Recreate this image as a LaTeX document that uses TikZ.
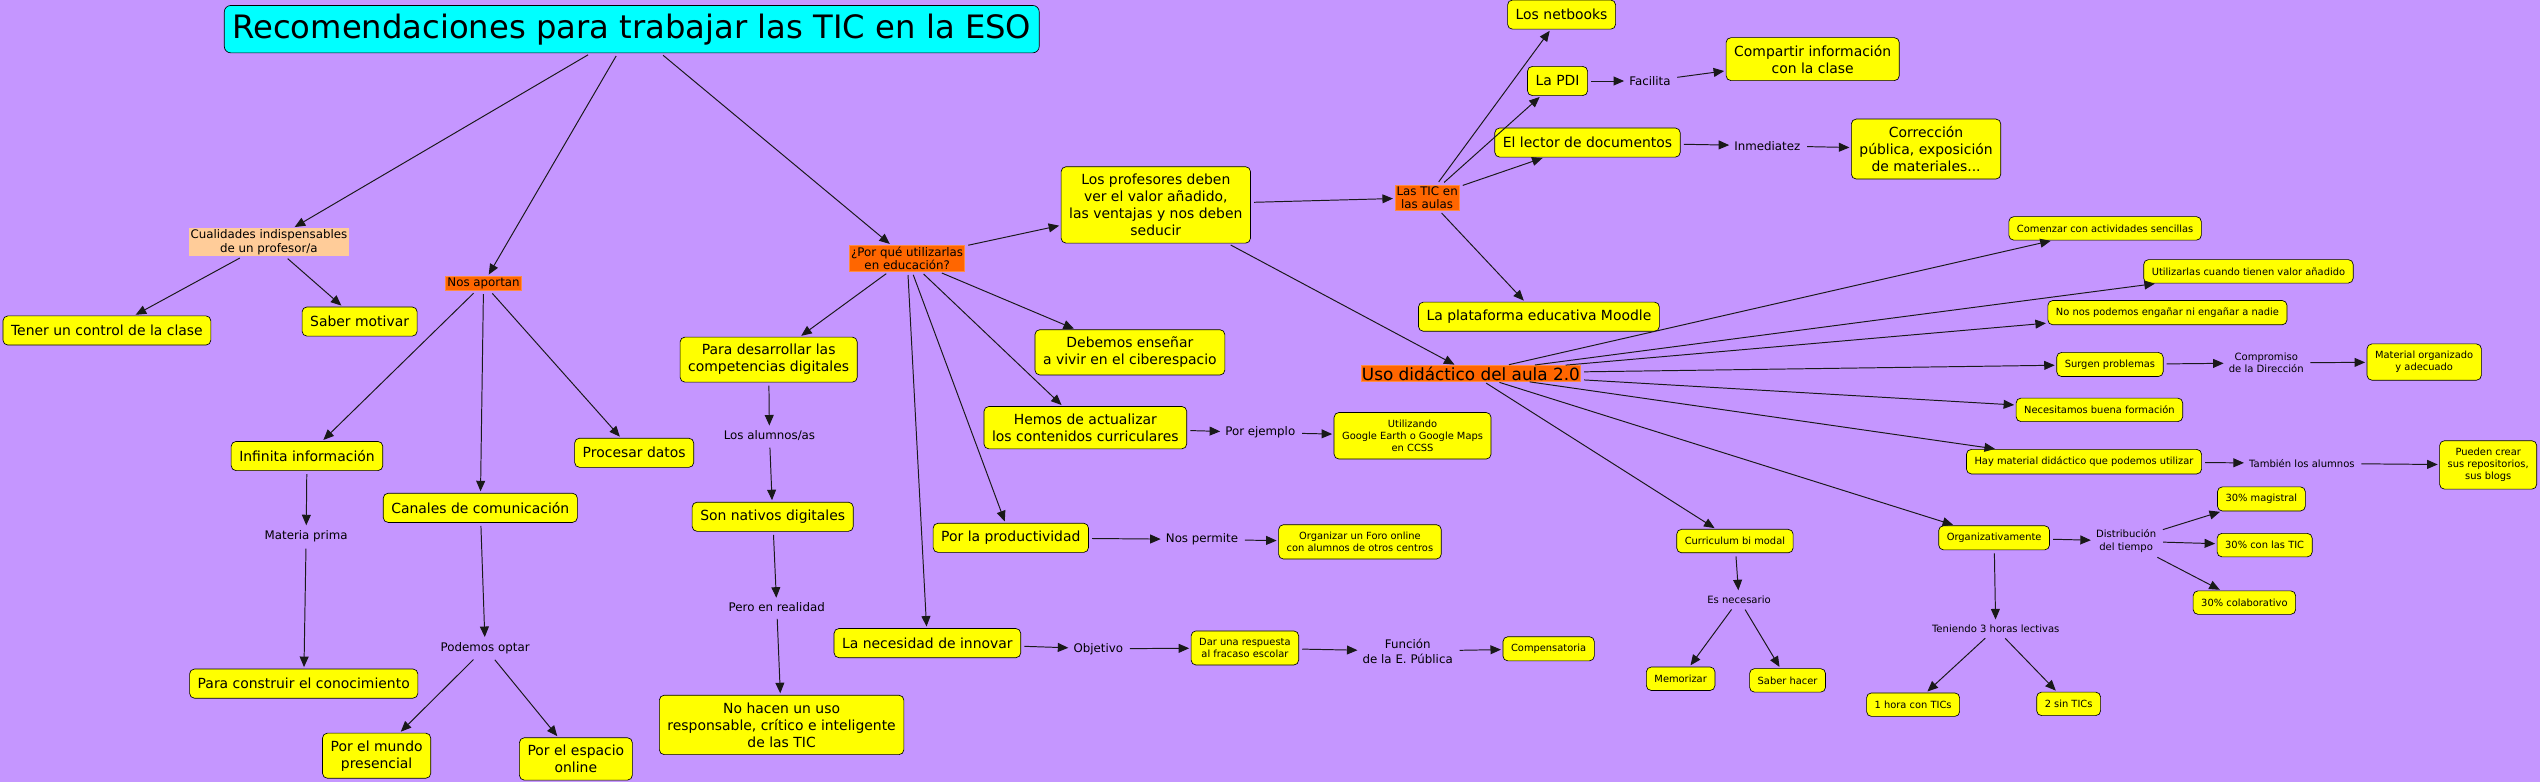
\documentclass[tikz,border=0pt]{standalone}
\usepackage{fontspec}
\setmainfont{DejaVu Sans}
\usetikzlibrary{arrows.meta}
\definecolor{mapbg}{RGB}{197,150,255}
\definecolor{boxyellow}{RGB}{255,255,0}
\definecolor{huborange}{RGB}{255,102,0}
\definecolor{peach}{RGB}{255,204,153}
\definecolor{titlecyan}{RGB}{0,255,255}

\begin{document}
\begin{tikzpicture}[
  x=1pt, y=-1pt,
  box/.style={draw, rounded corners=3pt, align=center, fill=boxyellow, inner xsep=5pt, inner ysep=4.5pt, minimum height=18pt, font=\fontsize{8.6}{10.5}\selectfont},
  sbox/.style={box, inner xsep=5pt, inner ysep=4.5pt, minimum height=14.5pt, font=\fontsize{6.1}{7.5}\selectfont},
  hub/.style={fill=huborange, draw=huborange!75!white, align=center, inner sep=1pt, font=\fontsize{7.3}{8.2}\selectfont},
  link/.style={align=center, inner sep=2pt, font=\fontsize{7.3}{9}\selectfont},
  slink/.style={link, font=\fontsize{6.2}{7.6}\selectfont},
  arrow/.style={-{Triangle[length=6.5pt,width=5.5pt]}, line width=0.6pt, draw=black!90, shorten >=1pt, shorten <=2pt}
]
\fill[mapbg] (0,0) rectangle (1568,483);
\useasboundingbox (0,0) rectangle (1568,483);

% root
\node[box, fill=titlecyan, rounded corners=4pt, inner xsep=5pt, inner ysep=5pt, font=\fontsize{19.9}{23}\selectfont] (title) at (390,18)
  {Recomendaciones para trabajar las TIC en la ESO};

% left branches
\node[hub, fill=peach, draw=none] (cual) at (166,149.5) {Cualidades indispensables\\de un profesor/a};
\node[hub] (nosap) at (298.5,175) {Nos aportan};
\node[hub] (porque) at (560,159.5) {¿Por qué utilizarlas\\en educación?};

\node[box] (tener) at (66,204) {Tener un control de la clase};
\node[box] (saber) at (222,198.5) {Saber motivar};

\node[box] (infinita) at (189.5,281.5) {Infinita información};
\node[box] (procesar) at (391.5,279.5) {Procesar datos};
\node[box] (canales) at (296.5,313.5) {Canales de comunicación};
\node[link] (materia) at (189,331) {Materia prima};
\node[box] (construir) at (187.5,422) {Para construir el conocimiento};
\node[link] (podemos) at (299.5,400) {Podemos optar};
\node[box] (mundo) at (232.5,466.5) {Por el mundo\\presencial};
\node[box] (espacio) at (355.5,468.5) {Por el espacio\\online};

% por que utilizarlas
\node[box] (desarr) at (474.5,222) {Para desarrollar las\\competencias digitales};
\node[link] (alumnos) at (475,269) {Los alumnos/as};
\node[box] (nativos) at (477,319) {Son nativos digitales};
\node[link] (pero) at (479.5,375) {Pero en realidad};
\node[box] (nohacen) at (482.5,447.5) {No hacen un uso\\responsable, crítico e inteligente\\de las TIC};

\node[box] (profes) at (713.5,126.5) {Los profesores deben\\ver el valor añadido,\\las ventajas y nos deben\\seducir};
\node[box] (debemos) at (697.5,217.5) {Debemos enseñar\\a vivir en el ciberespacio};
\node[box] (hemos) at (670,264) {Hemos de actualizar\\los contenidos curriculares};
\node[link] (porej) at (778,267) {Por ejemplo};
\node[sbox] (googl) at (872,269) {Utilizando\\Google Earth o Google Maps\\en CCSS};
\node[box] (product) at (624,332) {Por la productividad};
\node[link] (permite) at (742,333) {Nos permite};
\node[sbox] (foro) at (839.5,334.5) {Organizar un Foro online\\con alumnos de otros centros};
\node[box] (innovar) at (572.5,397) {La necesidad de innovar};
\node[link] (objetivo) at (678,400.5) {Objetivo};
\node[sbox] (fracaso) at (768.5,400) {Dar una respuesta\\al fracaso escolar};
\node[link] (funcion) at (869,402) {Función\\de la E. Pública};
\node[sbox] (compens) at (956,400.5) {Compensatoria};

% las TIC en las aulas
\node[hub] (lastic) at (881,122) {Las TIC en\\las aulas};
\node[box] (netbooks) at (964,9) {Los netbooks};
\node[box] (pdi) at (961.5,50) {La PDI};
\node[link] (facilita) at (1018.5,50) {Facilita};
\node[box] (compartir) at (1119,36.5) {Compartir información\\con la clase};
\node[box] (lector) at (980,88) {El lector de documentos};
\node[link] (inmed) at (1091,90) {Inmediatez};
\node[box] (correcc) at (1189,92) {Corrección\\pública, exposición\\de materiales...};
\node[box] (moodle) at (950,195.5) {La plataforma educativa Moodle};

% uso didactico
\node[hub, inner sep=0.5pt, font=\fontsize{10.4}{12}\selectfont] (uso) at (908,230.5) {Uso didáctico del aula 2.0};
\node[sbox] (comenzar) at (1299.5,141) {Comenzar con actividades sencillas};
\node[sbox] (utilizarlas) at (1388,167.5) {Utilizarlas cuando tienen valor añadido};
\node[sbox] (enganar) at (1338,193) {No nos podemos engañar ni engañar a nadie};
\node[sbox] (surgen) at (1302.5,225) {Surgen problemas};
\node[slink] (compromiso) at (1399,224) {Compromiso\\de la Dirección};
\node[sbox] (organizado) at (1496.5,223.5) {Material organizado\\y adecuado};
\node[sbox] (formacion) at (1296,253) {Necesitamos buena formación};
\node[sbox] (hay) at (1286.5,285) {Hay material didáctico que podemos utilizar};
\node[slink] (tambien) at (1421,286) {También los alumnos};
\node[sbox] (pueden) at (1536,287) {Pueden crear\\sus repositorios,\\sus blogs};

\node[sbox] (curric) at (1071,334) {Curriculum bi modal};
\node[slink] (esnec) at (1073.5,370) {Es necesario};
\node[sbox] (memorizar) at (1037.5,419) {Memorizar};
\node[sbox] (saberhacer) at (1103.5,420) {Saber hacer};

\node[sbox] (organiz) at (1231,332) {Organizativamente};
\node[slink] (distrib) at (1312.5,334) {Distribución\\del tiempo};
\node[sbox] (magistral) at (1396,308) {30\% magistral};
\node[sbox] (contic) at (1398,336.5) {30\% con las TIC};
\node[sbox] (colab) at (1385.5,372) {30\% colaborativo};
\node[slink] (teniendo) at (1232,388) {Teniendo 3 horas lectivas};
\node[sbox] (unahora) at (1181,435) {1 hora con TICs};
\node[sbox] (dossin) at (1277,434.5) {2 sin TICs};

% connectors
\draw[arrow] (title) -- (cual);
\draw[arrow] (title) -- (nosap);
\draw[arrow] (title) -- (porque);

\draw[arrow] (cual) -- (tener);
\draw[arrow] (cual) -- (saber);

\draw[arrow] (nosap) -- (infinita);
\draw[arrow] (nosap) -- (canales);
\draw[arrow] (nosap) -- (procesar);
\draw[arrow] (infinita) -- (materia);
\draw[arrow] (materia) -- (construir);
\draw[arrow] (canales) -- (podemos);
\draw[arrow] (podemos) -- (mundo);
\draw[arrow] (podemos) -- (espacio);

\draw[arrow] (porque) -- (profes);
\draw[arrow] (porque) -- (desarr);
\draw[arrow] (porque) -- (debemos);
\draw[arrow] (porque) -- (hemos);
\draw[arrow] (porque) -- (product);
\draw[arrow] (porque) -- (innovar);
\draw[arrow] (desarr) -- (alumnos);
\draw[arrow] (alumnos) -- (nativos);
\draw[arrow] (nativos) -- (pero);
\draw[arrow] (pero) -- (nohacen);
\draw[arrow] (hemos) -- (porej);
\draw[arrow] (porej) -- (googl);
\draw[arrow] (product) -- (permite);
\draw[arrow] (permite) -- (foro);
\draw[arrow] (innovar) -- (objetivo);
\draw[arrow] (objetivo) -- (fracaso);
\draw[arrow] (fracaso) -- (funcion);
\draw[arrow] (funcion) -- (compens);

\draw[arrow] (profes) -- (lastic);
\draw[arrow] (profes) -- (uso);
\draw[arrow] (lastic) -- (netbooks);
\draw[arrow] (lastic) -- (pdi);
\draw[arrow] (lastic) -- (lector);
\draw[arrow] (lastic) -- (moodle);
\draw[arrow] (pdi) -- (facilita);
\draw[arrow] (facilita) -- (compartir);
\draw[arrow] (lector) -- (inmed);
\draw[arrow] (inmed) -- (correcc);

\draw[arrow] (uso) -- (comenzar);
\draw[arrow] (uso) -- (utilizarlas);
\draw[arrow] (uso) -- (enganar);
\draw[arrow] (uso) -- (surgen);
\draw[arrow] (uso) -- (formacion);
\draw[arrow] (uso) -- (hay);
\draw[arrow] (uso) -- (curric);
\draw[arrow] (uso) -- (organiz);
\draw[arrow] (surgen) -- (compromiso);
\draw[arrow] (compromiso) -- (organizado);
\draw[arrow] (hay) -- (tambien);
\draw[arrow] (tambien) -- (pueden);
\draw[arrow] (curric) -- (esnec);
\draw[arrow] (esnec) -- (memorizar);
\draw[arrow] (esnec) -- (saberhacer);
\draw[arrow] (organiz) -- (distrib);
\draw[arrow] (distrib) -- (magistral);
\draw[arrow] (distrib) -- (contic);
\draw[arrow] (distrib) -- (colab);
\draw[arrow] (organiz) -- (teniendo);
\draw[arrow] (teniendo) -- (unahora);
\draw[arrow] (teniendo) -- (dossin);

\end{tikzpicture}
\end{document}
